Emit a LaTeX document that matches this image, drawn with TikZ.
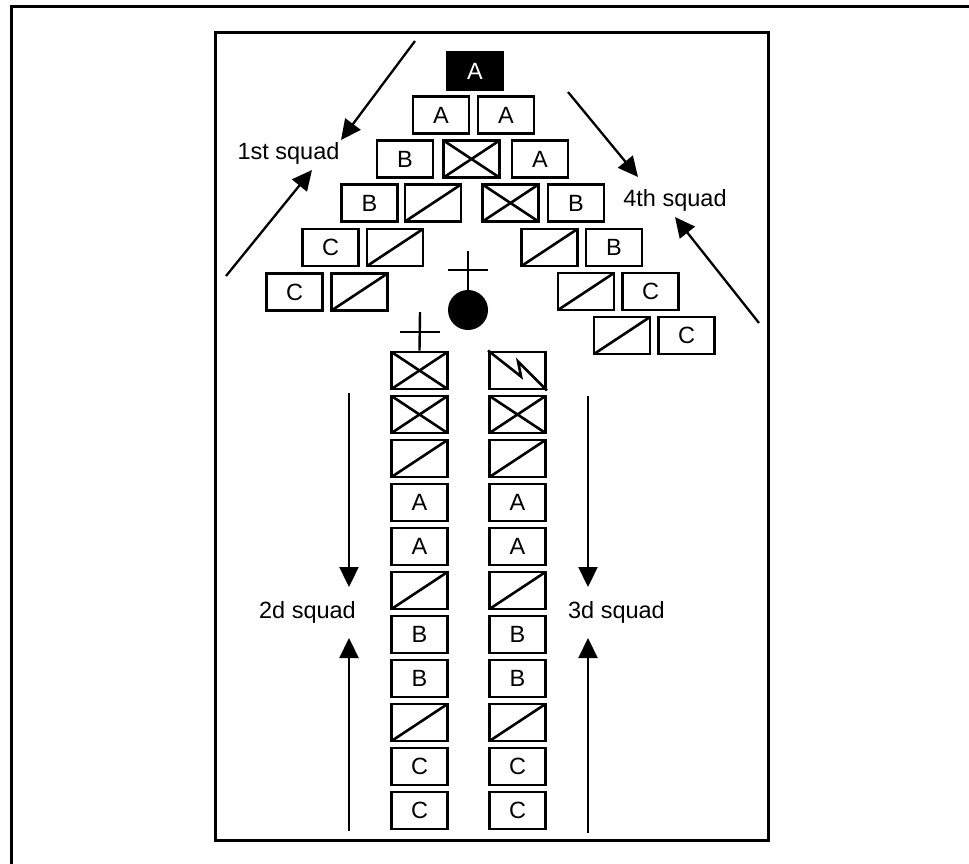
\documentclass[tikz,border=0pt]{standalone}
\usepackage{fontspec}
\setmainfont{Liberation Sans}
\usetikzlibrary{arrows.meta, calc}

\begin{document}
\begin{tikzpicture}[
    x=1pt, y=-1pt,
    unitbox/.style={rectangle, draw, line width=2.9pt, minimum width=56pt, minimum height=37pt, inner sep=0pt, font=\fontsize{23.5}{28}\selectfont},
    chiefbox/.style={unitbox, fill=black, text=white},
    halfbox/.style={unitbox, path picture={\draw[line width=2.6pt] (path picture bounding box.south west) -- (path picture bounding box.north east);}},
    crossbox/.style={unitbox, path picture={\draw[line width=2.6pt] (path picture bounding box.south west) -- (path picture bounding box.north east) (path picture bounding box.north west) -- (path picture bounding box.south east);}},
    arrow/.style={-{Triangle[length=20pt, width=19pt]}, line width=2.3pt},
    squad/.style={font=\fontsize{23.5}{28}\selectfont, inner sep=0pt},
    symline/.style={line width=2.4pt}
]
    \useasboundingbox (0,0) rectangle (969,863);
    \clip (0,0) rectangle (969,863);

    % Frames
    \draw[line width=3pt] (11,6) rectangle (990,890);
    \draw[line width=3pt] (215,32) rectangle (768,840);

    % Wedge - top
    \node[chiefbox] (top) at (475,71) {A};

    % Wedge - left wing
    \node[unitbox]  (lw1) at (441,115) {A};
    \node[unitbox]  (lw2) at (405,159) {B};
    \node[crossbox] (lx2) at (471.5,159) {};
    \node[unitbox]  (lw3) at (369.5,203) {B};
    \node[halfbox]  (lx3) at (433,203) {};
    \node[unitbox]  (lw4) at (330.5,247.5) {C};
    \node[halfbox]  (lx4) at (395,247.5) {};
    \node[unitbox]  (lw5) at (294.5,292) {C};
    \node[halfbox]  (lx5) at (359.5,292) {};

    % Wedge - right wing
    \node[unitbox]  (rw1) at (506,115) {A};
    \node[unitbox]  (rw2) at (540,159) {A};
    \node[crossbox] (rx3) at (510.5,203) {};
    \node[unitbox]  (rw3) at (576,203) {B};
    \node[halfbox]  (rx4) at (549.5,247.5) {};
    \node[unitbox]  (rw4) at (614,247.5) {B};
    \node[halfbox]  (rx5) at (586,291.5) {};
    \node[unitbox]  (rw5) at (650.5,291.5) {C};
    \node[halfbox]  (rx6) at (622,335.5) {};
    \node[unitbox]  (rw6) at (686.5,335.5) {C};

    % Leader with cross
    \node[circle, fill=black, minimum size=40pt, inner sep=0pt] (chief) at (468,310) {};
    \coordinate (chieftop) at (468,251);
    \draw[symline] (chieftop) -- (chief.north);
    \draw[symline] ($(chieftop)+(-20,19)$) -- ++(40,0);

    % Columns
    \foreach \kind/\txt [count=\i] in {crossbox/{}, crossbox/{}, halfbox/{}, unitbox/A, unitbox/A, halfbox/{}, unitbox/B, unitbox/B, halfbox/{}, unitbox/C, unitbox/C}
        \node[\kind] (L\i) at (419.5,326.5+44*\i) {\txt};
    \foreach \kind/\txt [count=\i] in {unitbox/{}, crossbox/{}, halfbox/{}, unitbox/A, unitbox/A, halfbox/{}, unitbox/B, unitbox/B, halfbox/{}, unitbox/C, unitbox/C}
        \node[\kind] (R\i) at (517.5,326.5+44*\i) {\txt};

    % Cross over column head, signal mark
    \coordinate (hqtop) at (420,312);
    \draw[symline] (hqtop) -- (L1.north);
    \draw[symline] ($(hqtop)+(-20,20)$) -- ++(40,0);
    \draw[line width=2.6pt] (R1.north west) -- ($(R1.north west)+(33,26)$) -- ($(R1.north west)+(30,11)$) -- (R1.south east);

    % Squad labels
    \node[squad] (sq1) at (288.5,153) {1st squad};
    \node[squad] (sq4) at (675,200) {4th squad};
    \node[squad] (sq2) at (307.5,612) {2d squad};
    \node[squad] (sq3) at (616.5,612) {3d squad};

    % Arrows
    \coordinate (a1s) at (415,41);  \coordinate (a1e) at (341,140);
    \coordinate (a2s) at (226,276); \coordinate (a2e) at (312,170);
    \coordinate (a3s) at (568,92);  \coordinate (a3e) at (638,177);
    \coordinate (a4s) at (759,323); \coordinate (a4e) at (675,217);
    \coordinate (a5s) at (349,393); \coordinate (a5e) at (349,587);
    \coordinate (a6s) at (349,831); \coordinate (a6e) at (349,638);
    \coordinate (a7s) at (588,396); \coordinate (a7e) at (588,587);
    \coordinate (a8s) at (588,833); \coordinate (a8e) at (588,638);
    \foreach \k in {1,...,8}
        \draw[arrow] (a\k s) -- (a\k e);
\end{tikzpicture}
\end{document}
